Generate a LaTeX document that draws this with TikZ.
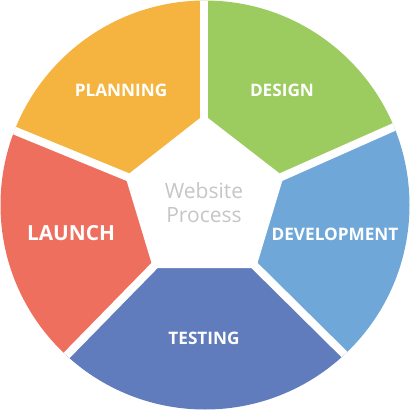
\documentclass[tikz,border=0pt]{standalone}
\usepackage{fontspec}
\setmainfont{Open Sans}
\usetikzlibrary{calc}
\definecolor{planning}{HTML}{F5B43F}
\definecolor{design}{HTML}{9CCB5F}
\definecolor{development}{HTML}{6FA7D8}
\definecolor{testing}{HTML}{607CBD}
\definecolor{launch}{HTML}{EF6F5E}
\definecolor{centertext}{HTML}{C6C6C6}
\tikzset{
  seglabel/.style={text=white,font=\bfseries\fontsize{17.2}{19}\selectfont},
  gap/.style={white,line width=8pt},
}
\begin{document}
\begin{tikzpicture}[x=1pt,y=-1pt]
			\useasboundingbox (0,0) rectangle (410,410);
			\coordinate (c) at (205,205);
			% inner pentagon corners and where the gaps meet the rim
			\coordinate (v1) at (204,120);
			\coordinate (v2) at (279,178);
			\coordinate (v3) at (253,264);
			\coordinate (v4) at (156,264);
			\coordinate (v5) at (130,178);
			\coordinate (o1) at (204,0);
			\coordinate (o2) at (394,127);
			\coordinate (o3) at (343,353);
			\coordinate (o4) at (67,355);
			\coordinate (o5) at (13,130);
			\begin{scope}
				\clip (c) circle (204.5);
				\fill[planning] (v5) -- ($(v5)!3!(o5)$) -- ($(v1)!3!(o1)$) -- (v1) -- cycle;
				\fill[design] (v1) -- ($(v1)!3!(o1)$) -- ($(v2)!3!(o2)$) -- (v2) -- cycle;
				\fill[development] (v2) -- ($(v2)!3!(o2)$) -- ($(v3)!3!(o3)$) -- (v3) -- cycle;
				\fill[testing] (v3) -- ($(v3)!3!(o3)$) -- ($(v4)!3!(o4)$) -- (v4) -- cycle;
				\fill[launch] (v4) -- ($(v4)!3!(o4)$) -- ($(v5)!3!(o5)$) -- (v5) -- cycle;
				\foreach \i in {1,...,5}
					\draw[gap] (v\i) -- ($(v\i)!2!(o\i)$);
			\end{scope}
			\filldraw[gap,line join=miter] (v1) -- (v2) -- (v3) -- (v4) -- (v5) -- cycle;
			\node[seglabel] (planningtext) at (121,90) {PLANNING};
			\node[seglabel] (designtext) at (282,90) {DESIGN};
			\node[seglabel] (developmenttext) at (335,234) {DEVELOPMENT};
			\node[seglabel] (testingtext) at (204,338) {TESTING};
			\node[seglabel,font=\bfseries\fontsize{20.8}{23}\selectfont] (launchtext) at (71,233) {LAUNCH};
			\node[align=center,text=centertext,font=\fontsize{21}{24}\selectfont] (website) at (204,203) {Website\\Process};
\end{tikzpicture}
\end{document}
